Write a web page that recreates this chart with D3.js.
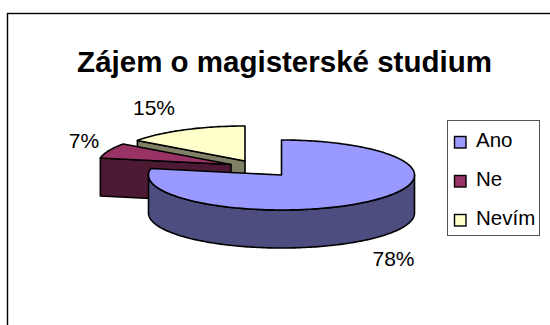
<!DOCTYPE html>
<html>
<head>
<meta charset="utf-8">
<script src="https://cdn.jsdelivr.net/npm/d3@7"></script>
<style>
  html, body { margin: 0; padding: 0; background: #fff; }
  text { font-family: "Liberation Sans", Arial, sans-serif; fill: #000; }
</style>
</head>
<body>
<div id="chart"></div>
<script>
const categories = ["Ano", "Ne", "Nevím"];
const percents = [78, 7, 15];
const topColors = ["#9999ff", "#993366", "#ffffcc"];
const sideColors = ["#4d4d80", "#4d1a33", "#808066"];

const svg = d3.select("#chart").append("svg")
    .attr("width", 550)
    .attr("height", 325);

// chart frame
svg.append("rect")
    .attr("x", 7.5).attr("y", 13.5)
    .attr("width", 560).attr("height", 340)
    .attr("fill", "#fff").attr("stroke", "#000").attr("stroke-width", 1.4);

svg.append("text")
    .attr("x", 284.5).attr("y", 72)
    .attr("text-anchor", "middle")
    .style("font-size", "29.5px").style("font-weight", "bold")
    .text("Zájem o magisterské studium");

// fake 3d pie: flattened ellipse, each slice pushed out from its own centre
const rx = 133, ry = 35, depth = 38;
const centers = [[281.5, 175], [231, 164.5], [245, 161]];

const arcs = d3.pie().sort(null).value(d => d)(percents);

function pt(c, a, dy) {
    return [c[0] + rx * Math.sin(a), c[1] - ry * Math.cos(a) + (dy || 0)];
}

function arcPoints(c, a0, a1, dy) {
    const n = Math.max(2, Math.ceil(Math.abs(a1 - a0) / 0.02));
    return d3.range(n + 1).map(i => pt(c, a0 + (a1 - a0) * i / n, dy));
}

const line = d3.line();

// back slices first, Ano sits in front
[2, 1, 0].forEach(i => {
    const c = centers[i];
    const a0 = arcs[i].startAngle, a1 = arcs[i].endAngle;
    const g = svg.append("g")
        .attr("stroke", "#000").attr("stroke-width", 1.6).attr("stroke-linejoin", "round");

    if (i === 0) {
        // outer wall, only the front half of the rim is visible
        const front = arcPoints(c, Math.PI / 2, 3 * Math.PI / 2, 0);
        const back = arcPoints(c, 3 * Math.PI / 2, Math.PI / 2, depth);
        g.append("path").attr("d", line(front.concat(back)) + "Z").attr("fill", sideColors[i]);
    } else {
        // cut face at the start angle
        const p = pt(c, a0), b = pt(c, a0, depth);
        g.append("path")
            .attr("d", line([p, c, [c[0], c[1] + depth], b]) + "Z")
            .attr("fill", sideColors[i]);
    }

    g.append("path")
        .attr("d", line([c].concat(arcPoints(c, a0, a1, 0))) + "Z")
        .attr("fill", topColors[i]);
});

// slice labels
const labelPos = [[393.5, 266], [84, 148], [154, 115]];
percents.forEach((v, i) => {
    svg.append("text")
        .attr("x", labelPos[i][0]).attr("y", labelPos[i][1])
        .attr("text-anchor", "middle")
        .style("font-size", "21px")
        .text(v + "%");
});

// legend
svg.append("rect")
    .attr("x", 447.5).attr("y", 120.5)
    .attr("width", 92).attr("height", 115)
    .attr("fill", "#fff").attr("stroke", "#555").attr("stroke-width", 1);

const legendY = d3.scalePoint().domain(categories).range([142, 220]);

categories.forEach((name, i) => {
    svg.append("rect")
        .attr("x", 454.5).attr("y", legendY(name) - 5.5)
        .attr("width", 11.5).attr("height", 11.5)
        .attr("fill", topColors[i]).attr("stroke", "#000").attr("stroke-width", 1.4);
    svg.append("text")
        .attr("x", 476).attr("y", legendY(name) + 5)
        .style("font-size", "20.5px")
        .text(name);
});
</script>
</body>
</html>
